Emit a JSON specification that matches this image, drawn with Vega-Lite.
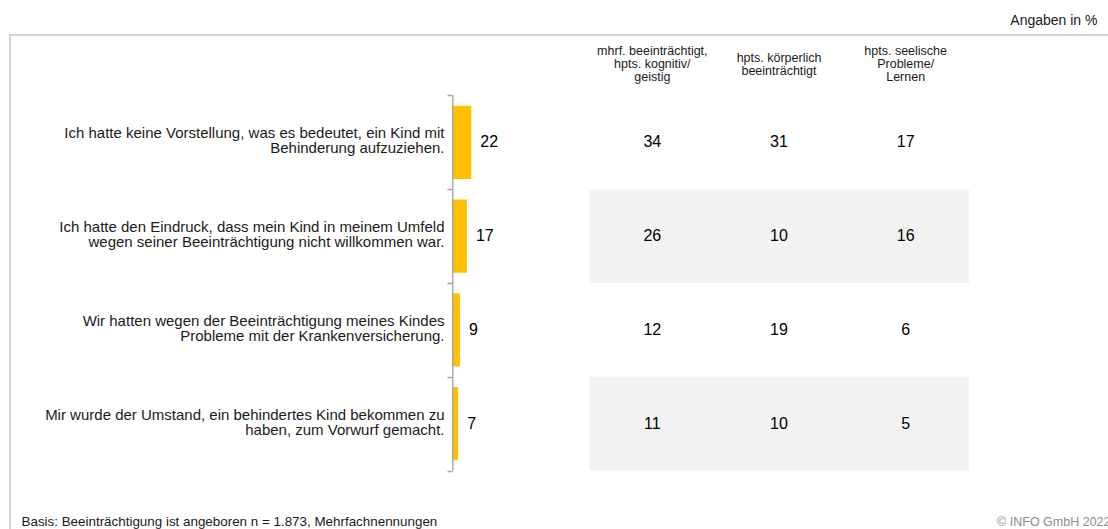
{
  "$schema": "https://vega.github.io/schema/vega-lite/v6.json",
  "autosize": {"type": "none"},
  "padding": {"left": 10, "top": 35, "right": -2, "bottom": -2},
  "width": 1100,
  "height": 496,
  "config": {
    "font": "Liberation Sans",
    "view": {"stroke": "#d4d4d4", "strokeWidth": 2},
    "axis": {"grid": false}
  },
  "datasets": {
    "bars": [
      {"statement": "Ich hatte keine Vorstellung, was es bedeutet, ein Kind mit|Behinderung aufzuziehen.", "row": 1, "total": 22},
      {"statement": "Ich hatte den Eindruck, dass mein Kind in meinem Umfeld|wegen seiner Beeinträchtigung nicht willkommen war.", "row": 2, "total": 17},
      {"statement": "Wir hatten wegen der Beeinträchtigung meines Kindes|Probleme mit der Krankenversicherung.", "row": 3, "total": 9},
      {"statement": "Mir wurde der Umstand, ein behindertes Kind bekommen zu|haben, zum Vorwurf gemacht.", "row": 4, "total": 7}
    ],
    "table": [
      {"statement": "Ich hatte keine Vorstellung, was es bedeutet, ein Kind mit|Behinderung aufzuziehen.", "row": 1, "group": "mhrf. beeinträchtigt,|hpts. kognitiv/|geistig", "value": 34},
      {"statement": "Ich hatte keine Vorstellung, was es bedeutet, ein Kind mit|Behinderung aufzuziehen.", "row": 1, "group": "hpts. körperlich|beeinträchtigt", "value": 31},
      {"statement": "Ich hatte keine Vorstellung, was es bedeutet, ein Kind mit|Behinderung aufzuziehen.", "row": 1, "group": "hpts. seelische|Probleme/|Lernen", "value": 17},
      {"statement": "Ich hatte den Eindruck, dass mein Kind in meinem Umfeld|wegen seiner Beeinträchtigung nicht willkommen war.", "row": 2, "group": "mhrf. beeinträchtigt,|hpts. kognitiv/|geistig", "value": 26},
      {"statement": "Ich hatte den Eindruck, dass mein Kind in meinem Umfeld|wegen seiner Beeinträchtigung nicht willkommen war.", "row": 2, "group": "hpts. körperlich|beeinträchtigt", "value": 10},
      {"statement": "Ich hatte den Eindruck, dass mein Kind in meinem Umfeld|wegen seiner Beeinträchtigung nicht willkommen war.", "row": 2, "group": "hpts. seelische|Probleme/|Lernen", "value": 16},
      {"statement": "Wir hatten wegen der Beeinträchtigung meines Kindes|Probleme mit der Krankenversicherung.", "row": 3, "group": "mhrf. beeinträchtigt,|hpts. kognitiv/|geistig", "value": 12},
      {"statement": "Wir hatten wegen der Beeinträchtigung meines Kindes|Probleme mit der Krankenversicherung.", "row": 3, "group": "hpts. körperlich|beeinträchtigt", "value": 19},
      {"statement": "Wir hatten wegen der Beeinträchtigung meines Kindes|Probleme mit der Krankenversicherung.", "row": 3, "group": "hpts. seelische|Probleme/|Lernen", "value": 6},
      {"statement": "Mir wurde der Umstand, ein behindertes Kind bekommen zu|haben, zum Vorwurf gemacht.", "row": 4, "group": "mhrf. beeinträchtigt,|hpts. kognitiv/|geistig", "value": 11},
      {"statement": "Mir wurde der Umstand, ein behindertes Kind bekommen zu|haben, zum Vorwurf gemacht.", "row": 4, "group": "hpts. körperlich|beeinträchtigt", "value": 10},
      {"statement": "Mir wurde der Umstand, ein behindertes Kind bekommen zu|haben, zum Vorwurf gemacht.", "row": 4, "group": "hpts. seelische|Probleme/|Lernen", "value": 5}
    ]
  },
  "encoding": {
    "y": {
      "field": "statement", "type": "nominal", "sort": null,
      "scale": {
        "domain": [
          "Ich hatte keine Vorstellung, was es bedeutet, ein Kind mit|Behinderung aufzuziehen.",
          "Ich hatte den Eindruck, dass mein Kind in meinem Umfeld|wegen seiner Beeinträchtigung nicht willkommen war.",
          "Wir hatten wegen der Beeinträchtigung meines Kindes|Probleme mit der Krankenversicherung.",
          "Mir wurde der Umstand, ein behindertes Kind bekommen zu|haben, zum Vorwurf gemacht."
        ],
        "paddingInner": 0, "paddingOuter": 0.645, "align": 0.5
      },
      "axis": {
        "orient": "left", "offset": -442, "domain": false,
        "ticks": true, "tickBand": "extent", "tickSize": 5, "tickColor": "#a6a6a6", "tickWidth": 1.5,
        "labelExpr": "isString(datum.value) ? split(datum.value, '|') : ''", "labelAlign": "right", "labelBaseline": "middle",
        "labelPadding": 3, "labelOffset": -9.5, "labelFontSize": 15, "labelLineHeight": 15, "labelColor": "#1a1a1a", "labelLimit": 600,
        "labelOverlap": false, "labelBound": false,
        "title": "© INFO GmbH 2022", "titleAngle": 0, "titleAlign": "right", "titleBaseline": "middle",
        "titleX": 658, "titleY": 486, "titleColor": "#8c8c8c", "titleFontSize": 12.5, "titleFontWeight": "normal"
      }
    }
  },
  "layer": [
    {
      "data": {"name": "bars"},
      "layer": [
        {
          "mark": {"type": "bar", "color": "#FFC000", "height": {"band": 0.78}},
          "encoding": {
            "x": {
              "field": "total", "type": "quantitative",
              "scale": {"domain": [-508, 756], "nice": false, "zero": false},
              "axis": {
                "orient": "bottom", "labels": false, "ticks": false, "domain": false, "grid": false,
                "title": "Basis: Beeinträchtigung ist angeboren n = 1.873, Mehrfachnennungen",
                "titleX": 11, "titleY": -10, "titleAlign": "left", "titleAnchor": "start", "titleBaseline": "middle",
                "titleFontSize": 13.4, "titleFontWeight": "normal", "titleColor": "#1a1a1a"
              }
            }
          }
        },
        {
          "mark": {"type": "bar", "color": "#a6a6a6", "height": {"band": 1}},
          "encoding": {
            "x": {"datum": 0, "type": "quantitative"},
            "x2": {"datum": 1.6}
          }
        },
        {
          "mark": {"type": "text", "align": "left", "baseline": "middle", "dx": 9, "fontSize": 16, "color": "#000000"},
          "encoding": {
            "x": {"field": "total", "type": "quantitative"},
            "text": {"field": "total", "type": "quantitative"}
          }
        }
      ]
    },
    {
      "data": {"name": "table"},
      "layer": [
        {
          "transform": [{"filter": "datum.row % 2 == 0"}],
          "mark": {"type": "rect", "color": "#f2f2f2"},
          "encoding": {
            "x": {
              "field": "group", "type": "nominal", "sort": null,
              "scale": {
                "domain": ["mhrf. beeinträchtigt,|hpts. kognitiv/|geistig", "hpts. körperlich|beeinträchtigt", "hpts. seelische|Probleme/|Lernen"],
                "paddingInner": 0, "paddingOuter": 0, "range": [579, 959]
              },
              "axis": {
                "orient": "top", "offset": -28, "domain": false, "ticks": false, "grid": false,
                "labelAngle": 0, "labelExpr": "split(datum.value, '|')", "labelBaseline": "middle", "labelAlign": "center",
                "labelPadding": {"condition": {"test": "indexof(datum.value, 'körperlich') >= 0", "value": 6}, "value": 12.5},
                "labelFontSize": 12.5, "labelLineHeight": 13, "labelColor": "#1a1a1a",
                "labelOverlap": false, "labelBound": false, "labelFlush": false, "labelLimit": 300,
                "title": "Angaben in %", "titleX": 1087, "titleY": -43, "titleAlign": "right", "titleAnchor": "end",
                "titleBaseline": "middle", "titleAngle": 0, "titleFontSize": 14, "titleFontWeight": "normal", "titleColor": "#1a1a1a"
              }
            }
          }
        },
        {
          "mark": {"type": "text", "fontSize": 16, "baseline": "middle", "color": "#000000"},
          "encoding": {
            "x": {"field": "group", "type": "nominal", "sort": null},
            "text": {"field": "value", "type": "quantitative"}
          }
        }
      ]
    }
  ],
  "resolve": {"scale": {"x": "independent"}, "axis": {"x": "independent"}}
}
